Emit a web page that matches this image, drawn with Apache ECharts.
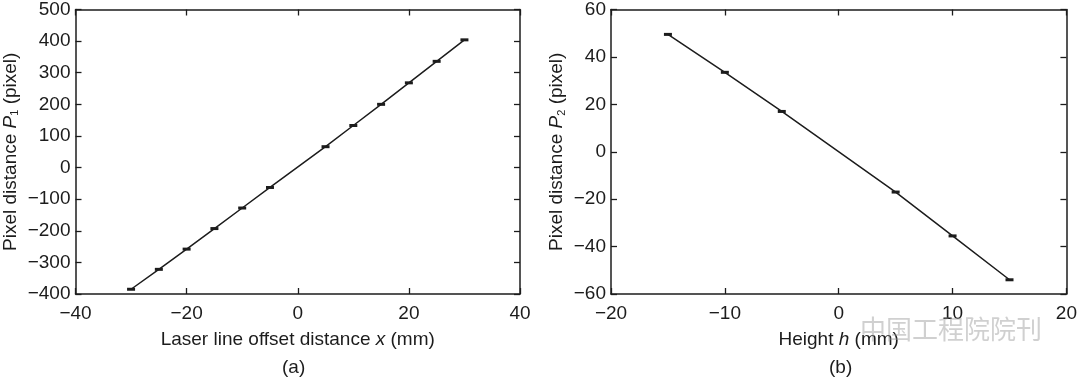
<!DOCTYPE html>
<html>
<head>
<meta charset="utf-8">
<script src="https://cdn.jsdelivr.net/npm/echarts@6/dist/echarts.min.js"></script>
<style>
  html, body { margin: 0; padding: 0; background: #fff; }
  #main { width: 1080px; height: 377px; }
</style>
</head>
<body>
<div id="main"></div>
<script>
// (a) laser line offset vs pixel distance P1
var offsetX = [-30, -25, -20, -15, -10, -5, 5, 10, 15, 20, 25, 30];
var pixelP1 = [-385, -322, -258, -193, -128, -63, 66, 133, 200, 268, 336, 404];
// (b) height vs pixel distance P2
var heightH = [-15, -10, -5, 5, 10, 15];
var pixelP2 = [49.5, 33.5, 17, -17, -35.5, -54];

function pairs(xs, ys) {
  return xs.map(function (x, i) { return [x, ys[i]]; });
}

var dom = document.getElementById('main');
var myChart = echarts.init(dom, null, { renderer: 'canvas' });

var font = 'Liberation Sans, Arial, sans-serif';
var ink = '#1c1c1c';
var fs = 19;
var minus = function (v) { return String(v).replace('-', '\u2212'); };

var frameLine = { show: true, onZero: false, lineStyle: { color: ink, width: 1.5 } };
var inTick = { show: true, inside: true, length: 6, lineStyle: { color: ink, width: 1.3 } };
var tickLabel = { color: ink, fontSize: fs, fontFamily: font, formatter: minus };

var nameRich = {
  n: { fontSize: fs, fontFamily: font, color: ink },
  i: { fontSize: fs, fontFamily: font, color: ink, fontStyle: 'italic' },
  s: { fontSize: 11, fontFamily: font, color: ink, padding: [9, 0, 0, 0] }
};

function mainX(gi, min, max, step, name) {
  return {
    type: 'value', gridIndex: gi, position: 'bottom',
    min: min, max: max, interval: step,
    axisLine: frameLine, axisTick: inTick,
    axisLabel: Object.assign({ margin: 10 }, tickLabel),
    splitLine: { show: false },
    name: name, nameLocation: 'middle', nameGap: 36,
    nameTextStyle: { rich: nameRich }
  };
}
function mirrorX(gi, min, max, step) {
  return {
    type: 'value', gridIndex: gi, position: 'top',
    min: min, max: max, interval: step,
    axisLine: frameLine, axisTick: inTick,
    axisLabel: { show: false }, splitLine: { show: false }
  };
}
function mainY(gi, min, max, step, name, gap) {
  return {
    type: 'value', gridIndex: gi, position: 'left',
    min: min, max: max, interval: step,
    axisLine: frameLine, axisTick: inTick,
    axisLabel: Object.assign({ margin: 5 }, tickLabel),
    splitLine: { show: false },
    name: name, nameLocation: 'middle', nameGap: gap,
    nameTextStyle: { rich: nameRich }
  };
}
function mirrorY(gi, min, max, step) {
  return {
    type: 'value', gridIndex: gi, position: 'right',
    min: min, max: max, interval: step,
    axisLine: frameLine, axisTick: inTick,
    axisLabel: { show: false }, splitLine: { show: false }
  };
}

function lineSeries(xi, yi, data) {
  return {
    type: 'line', xAxisIndex: xi, yAxisIndex: yi,
    data: data,
    symbol: 'rect', symbolSize: [8, 3],
    itemStyle: { color: ink },
    lineStyle: { color: ink, width: 1.5 },
    animation: false, silent: true
  };
}

var option = {
  backgroundColor: '#fff',
  grid: [
    { left: 68, top: 6, width: 452, height: 288 },
    { left: 611, top: 6, width: 460, height: 288 }
  ],
  xAxis: [
    mainX(0, -40, 40, 20, '{n|Laser line offset distance }{i|x}{n| (mm)}'),
    mirrorX(0, -40, 40, 20),
    mainX(1, -20, 20, 10, '{n|Height }{i|h}{n| (mm)}'),
    mirrorX(1, -20, 20, 10)
  ],
  yAxis: [
    mainY(0, -400, 500, 100, '{n|Pixel distance }{i|P}{s|1}{n| (pixel)}', 55),
    mirrorY(0, -400, 500, 100),
    mainY(1, -60, 60, 20, '{n|Pixel distance }{i|P}{s|2}{n| (pixel)}', 44),
    mirrorY(1, -60, 60, 20)
  ],
  series: [
    lineSeries(0, 0, pairs(offsetX, pixelP1)),
    lineSeries(2, 2, pairs(heightH, pixelP2))
  ],
  graphic: [
    { type: 'text', left: 282, top: 358, style: { text: '(a)', font: fs + 'px ' + font, fill: ink } },
    { type: 'text', left: 829, top: 358, style: { text: '(b)', font: fs + 'px ' + font, fill: ink } },
    { type: 'text', left: 860, top: 316, z: 100,
      style: { text: '中国工程院院刊', font: '26px "Noto Sans CJK SC"', fill: 'rgba(150,150,150,0.45)' } }
  ]
};

if (option && typeof option === 'object') {
  myChart.setOption(option);
}

window.addEventListener('resize', myChart.resize);
</script>
</body>
</html>
